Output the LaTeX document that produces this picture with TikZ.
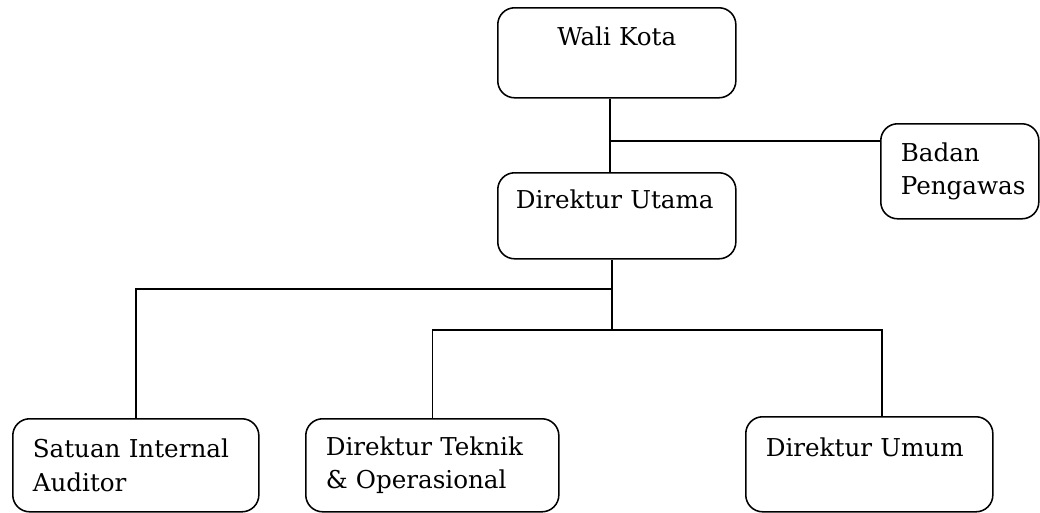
\documentclass[tikz,border=0pt]{standalone}
\usepackage{fontspec}
\setmainfont{DejaVu Serif}
\usetikzlibrary{positioning}

\tikzset{
  orgbox/.style={draw, line width=1.1pt, rounded corners=12pt, anchor=north west,
    align=left, inner xsep=0.5cm, inner ysep=0pt,
    font=\fontsize{17.5}{24}\selectfont},
  orgline/.style={line width=1.1pt}
}

\begin{document}
\begin{tikzpicture}[x=0.025cm,y=-0.025cm]
  \useasboundingbox (0,0) rectangle (1040,513);
  % boxes
  \node[orgbox,align=center,minimum width=5.95cm,minimum height=2.25cm,text width=4.95cm]
    (wali) at (497,7) {Wali Kota\\\mbox{}};
  \node[orgbox,inner xsep=0.45cm,minimum width=5.95cm,minimum height=2.15cm,text width=5.05cm]
    (dirut) at (497,172) {Direktur Utama\\\mbox{}};
  \node[orgbox,minimum width=3.95cm,minimum height=2.375cm,text width=2.95cm]
    (badan) at (880,123) {Badan\\Pengawas};
  \node[orgbox,minimum width=6.15cm,minimum height=2.325cm,text width=5.15cm]
    (sia) at (12,418) {Satuan Internal\\Auditor};
  \node[orgbox,minimum width=6.325cm,minimum height=2.325cm,text width=5.325cm]
    (dto) at (305,418) {Direktur Teknik\\\& Operasional};
  \node[orgbox,minimum width=6.175cm,minimum height=2.375cm,text width=5.175cm]
    (dum) at (745,416) {Direktur Umum\\\mbox{}};
  % joints
  \coordinate (spine) at (610,0);
  \coordinate (bjoin) at (880,141);
  \coordinate (hub1) at (612,289);
  \coordinate (hub2) at (612,330);
  \coordinate (dumin) at (882,0);
  % connectors
  \draw[orgline] (wali.south -| spine) -- (dirut.north -| spine);
  \draw[orgline] (spine |- bjoin) -- (badan.west |- bjoin);
  \draw[orgline] (dirut.south -| hub2) -- (hub2);
  \draw[orgline] (hub1) -| (sia.north);
  \draw[orgline] (dto.north) |- (hub2) -| (dum.north -| dumin);
\end{tikzpicture}
\end{document}
